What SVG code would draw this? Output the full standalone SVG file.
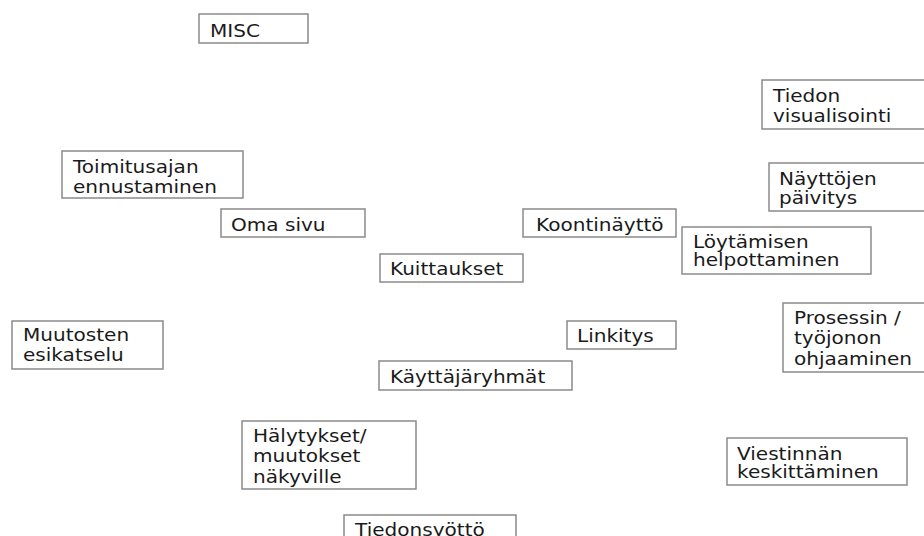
<svg xmlns="http://www.w3.org/2000/svg" width="924" height="536" viewBox="0 0 924 536">
<style>
.box{fill:#ffffff;stroke:#8a8a8a;stroke-width:1.5}
.t{font-family:"DejaVu Sans","Verdana",sans-serif;font-size:17px;fill:#1a1a1a}
</style>
<rect x="0" y="0" width="924" height="536" fill="#ffffff"/>
<g id="connectors"></g>
<g id="misc"><rect class="box" x="199" y="14" width="109" height="29"/><text class="t" transform="translate(210,36.5) scale(1.18,1)"><tspan x="0" y="0">MISC</tspan></text></g>
<g id="toimitusajan"><rect class="box" x="62" y="151" width="181" height="47"/><text class="t" transform="translate(73,173) scale(1.18,1)"><tspan x="0" y="0">Toimitusajan</tspan><tspan x="0" y="20">ennustaminen</tspan></text></g>
<g id="omasivu"><rect class="box" x="221" y="209" width="144" height="28"/><text class="t" transform="translate(231,230.5) scale(1.18,1)"><tspan x="0" y="0">Oma sivu</tspan></text></g>
<g id="koontinaytto"><rect class="box" x="523" y="209" width="153" height="28"/><text class="t" transform="translate(536,230.5) scale(1.18,1)"><tspan x="0" y="0">Koontinäyttö</tspan></text></g>
<g id="kuittaukset"><rect class="box" x="380" y="254" width="143" height="28"/><text class="t" transform="translate(390,275) scale(1.18,1)"><tspan x="0" y="0">Kuittaukset</tspan></text></g>
<g id="tiedonvisualisointi"><rect class="box" x="762" y="80" width="180" height="49"/><text class="t" transform="translate(773,102) scale(1.18,1)"><tspan x="0" y="0">Tiedon</tspan><tspan x="0" y="20">visualisointi</tspan></text></g>
<g id="nayttojen"><rect class="box" x="769" y="163" width="180" height="48"/><text class="t" transform="translate(779,185) scale(1.18,1)"><tspan x="0" y="0">Näyttöjen</tspan><tspan x="0" y="19">päivitys</tspan></text></g>
<g id="loytamisen"><rect class="box" x="682" y="227" width="189" height="47"/><text class="t" transform="translate(693,247.5) scale(1.18,1)"><tspan x="0" y="0">Löytämisen</tspan><tspan x="0" y="19">helpottaminen</tspan></text></g>
<g id="muutosten"><rect class="box" x="12" y="321" width="151" height="48"/><text class="t" transform="translate(23,341) scale(1.18,1)"><tspan x="0" y="0">Muutosten</tspan><tspan x="0" y="20">esikatselu</tspan></text></g>
<g id="linkitys"><rect class="box" x="567" y="321" width="109" height="28"/><text class="t" transform="translate(577,342) scale(1.18,1)"><tspan x="0" y="0">Linkitys</tspan></text></g>
<g id="kayttajaryhmat"><rect class="box" x="379" y="361" width="193" height="29"/><text class="t" transform="translate(390,383) scale(1.18,1)"><tspan x="0" y="0">Käyttäjäryhmät</tspan></text></g>
<g id="halytykset"><rect class="box" x="242" y="421" width="174" height="68"/><text class="t" transform="translate(253,442) scale(1.18,1)"><tspan x="0" y="0">Hälytykset/</tspan><tspan x="0" y="20.5">muutokset</tspan><tspan x="0" y="41">näkyville</tspan></text></g>
<g id="tiedonsyotto"><rect class="box" x="344" y="515" width="172" height="40"/><text class="t" transform="translate(355,536) scale(1.18,1)"><tspan x="0" y="0">Tiedonsyöttö</tspan></text></g>
<g id="prosessin"><rect class="box" x="783" y="303" width="160" height="69"/><text class="t" transform="translate(794,324) scale(1.18,1)"><tspan x="0" y="0">Prosessin /</tspan><tspan x="0" y="20.5">työjonon</tspan><tspan x="0" y="41">ohjaaminen</tspan></text></g>
<g id="viestinnan"><rect class="box" x="727" y="438" width="180" height="47"/><text class="t" transform="translate(737,459.5) scale(1.18,1)"><tspan x="0" y="0">Viestinnän</tspan><tspan x="0" y="19">keskittäminen</tspan></text></g>
</svg>
